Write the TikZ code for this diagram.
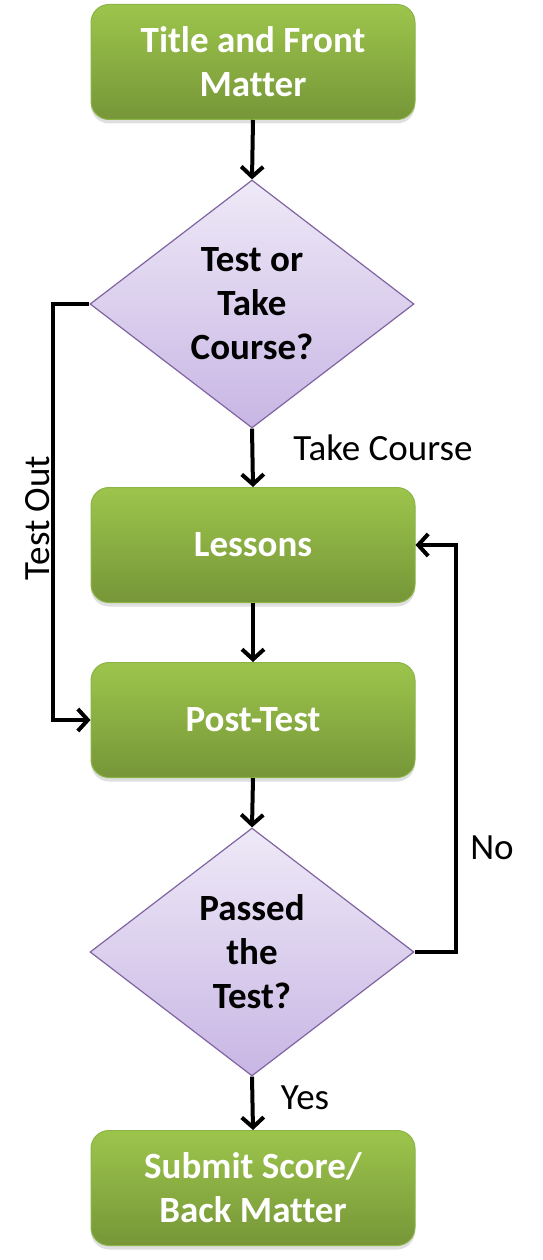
\documentclass[tikz,border=0pt]{standalone}
\usepackage{fontspec}
\setmainfont{Carlito}[Ligatures={NoCommon}]
\usetikzlibrary{shapes.geometric,arrows.meta,shadows}
\definecolor{gtop}{RGB}{157,197,76}
\definecolor{gbot}{RGB}{118,150,56}
\definecolor{gborder}{RGB}{140,180,70}
\definecolor{ptop}{RGB}{238,233,247}
\definecolor{pbot}{RGB}{200,182,228}
\definecolor{pborder}{RGB}{128,100,162}
\tikzset{
  procbox/.style={rectangle, rounded corners=18pt, minimum width=324pt, minimum height=115pt,
    top color=gtop, bottom color=gbot, draw=gborder, line width=1pt,
    text=white, font=\fontsize{37}{44}\selectfont\bfseries, align=center,
    drop shadow={opacity=0.25, shadow xshift=0pt, shadow yshift=-4pt}},
  decide/.style={diamond, aspect=1.306, inner sep=0pt, minimum width=324pt, minimum height=248pt,
    top color=ptop, bottom color=pbot, draw=pborder, line width=1.2pt,
    text=black, font=\fontsize{37}{44}\selectfont\bfseries, align=center},
  conn/.style={line width=4pt, -{Straight Barb[length=10pt,width=22pt]}},
  lbl/.style={font=\fontsize{37}{44}\selectfont, text=black}
}
\begin{document}
\begin{tikzpicture}[x=1pt,y=-1pt]
\useasboundingbox (0,0) rectangle (542,1260);
\node[procbox] (b1) at (253,62) {Title and Front\\Matter};
\node[decide] (d1) at (252,304) {Test or\\Take\\Course?};
\node[procbox] (b2) at (253,545) {Lessons};
\node[procbox] (b3) at (253,720) {Post-Test};
\node[decide] (d2) at (252,952) {Passed\\the\\Test?};
\node[procbox] (b4) at (253,1188) {Submit Score/\\Back Matter};
\draw[conn] (b1.south) -- (d1.north);
\draw[conn] (d1.south) -- (b2.north);
\draw[conn] (b2.south) -- (b3.north);
\draw[conn] (b3.south) -- (d2.north);
\draw[conn] (d2.south) -- (b4.north);
\draw[conn] (d1.west) -- ++(-36,0) |- (b3.west);
\draw[conn] (d2.east) -- ++(41,0) |- (b2.east);
\node[lbl] (tc) at (383,448) {Take Course};
\node[lbl, rotate=90] (to) at (38,518) {Test Out};
\node[lbl] (no) at (492,848) {No};
\node[lbl] (yes) at (305,1098) {Yes};
\end{tikzpicture}
\end{document}
